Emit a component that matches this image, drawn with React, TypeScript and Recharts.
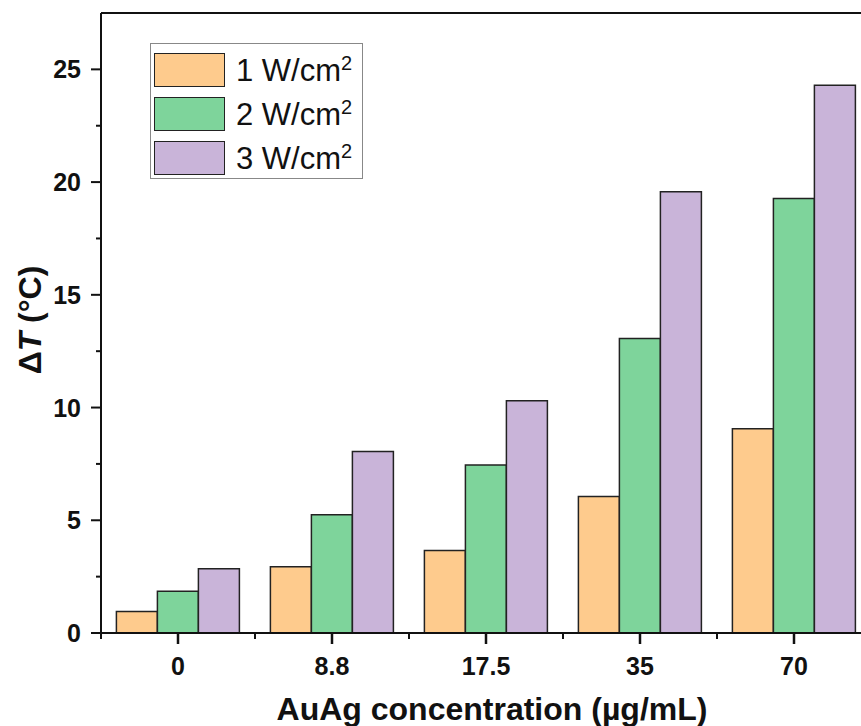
import React from "react";
import {
  Bar,
  BarChart,
  Legend,
  ReferenceLine,
  XAxis,
  YAxis,
} from "recharts";

const categories = ["0", "8.8", "17.5", "35", "70"];
const w1 = [0.95, 2.94, 3.66, 6.05, 9.06];
const w2 = [1.85, 5.25, 7.45, 13.06, 19.27];
const w3 = [2.85, 8.05, 10.3, 19.57, 24.29];
const yTicks = [0, 2.5, 5, 7.5, 10, 12.5, 15, 17.5, 20, 22.5, 25];

const SERIES = [
  { key: "w1", label: "1", color: "#FECB8D" },
  { key: "w2", label: "2", color: "#7ED49B" },
  { key: "w3", label: "3", color: "#C9B4D9" },
];

const data = categories.map((c, i) => ({
  conc: c,
  w1: w1[i],
  w2: w2[i],
  w3: w3[i],
}));

const FONT = "'Liberation Sans', Arial, sans-serif";
const CHART_W = 900;
const CHART_H = 726;
const M = { top: 13, right: 29, left: 0, bottom: 0 };
const Y_W = 101;
const X_H = 93;
const HALF_BAND = (CHART_W - M.right - Y_W) / categories.length / 2;
const INK = "#111";

const YTick = (props: any) => {
  const { x, y, payload } = props;
  const major = payload.value % 5 === 0;
  return (
    <g>
      <line x1={x} x2={x - (major ? 10 : 5)} y1={y} y2={y} stroke={INK} strokeWidth={2} />
      {major && (
        <text
          x={x - 20}
          y={y}
          dy="0.36em"
          textAnchor="end"
          fontFamily={FONT}
          fontWeight="bold"
          fontSize={25}
          fill={INK}
        >
          {payload.value}
        </text>
      )}
    </g>
  );
};

const XTick = (props: any) => {
  const { x, y, payload } = props;
  return (
    <g>
      <line x1={x} x2={x} y1={y} y2={y + 11} stroke={INK} strokeWidth={2.5} />
      <line x1={x - HALF_BAND} x2={x - HALF_BAND} y1={y} y2={y + 6} stroke={INK} strokeWidth={2} />
      <line x1={x + HALF_BAND} x2={x + HALF_BAND} y1={y} y2={y + 6} stroke={INK} strokeWidth={2} />
      <text
        x={x}
        y={y + 42}
        textAnchor="middle"
        fontFamily={FONT}
        fontWeight="bold"
        fontSize={25}
        fill={INK}
      >
        {payload.value}
      </text>
    </g>
  );
};

const LegendBox = () => (
  <div
    style={{
      border: "1px solid #888",
      background: "#fff",
      padding: "8px 4px 3px 3px",
      width: 204,
      fontFamily: FONT,
    }}
  >
    {SERIES.map((s, i) => (
      <div
        key={s.key}
        style={{
          display: "flex",
          alignItems: "center",
          height: 35,
          marginBottom: i < SERIES.length - 1 ? 9 : 0,
        }}
      >
        <div
          style={{
            width: 69,
            height: 32,
            background: s.color,
            border: "1.5px solid #222",
          }}
        />
        <span style={{ marginLeft: 11, fontSize: 31, color: INK, lineHeight: 1, whiteSpace: "nowrap" }}>
          {s.label} W/cm<sup style={{ fontSize: 20, verticalAlign: "0.55em" }}>2</sup>
        </span>
      </div>
    ))}
  </div>
);

export default function App() {
  return (
    <div
      style={{
        position: "absolute",
        left: 0,
        top: 0,
        width: 861,
        height: 726,
        overflow: "hidden",
        background: "#fff",
      }}
    >
      <BarChart
        width={CHART_W}
        height={CHART_H}
        data={data}
        margin={M}
        barCategoryGap="10%"
        barGap={0}
      >
        <XAxis
          dataKey="conc"
          height={X_H}
          interval={0}
          tickSize={0}
          tickMargin={0}
          tick={<XTick />}
          tickLine={false}
          axisLine={{ stroke: INK, strokeWidth: 2 }}
          label={{
            value: "AuAg concentration (µg/mL)",
            position: "insideBottom",
            offset: 6,
            dx: 6,
            fontFamily: FONT,
            fontWeight: "bold",
            fontSize: 32,
            fill: INK,
          }}
        />
        <YAxis
          width={Y_W}
          domain={[0, 27.5]}
          allowDataOverflow
          ticks={yTicks}
          interval={0}
          tickSize={0}
          tickMargin={0}
          tick={<YTick />}
          tickLine={false}
          axisLine={{ stroke: INK, strokeWidth: 2 }}
        />
        <ReferenceLine y={27.5} stroke={INK} strokeWidth={2} />
        <Legend
          layout="vertical"
          align="center"
          verticalAlign="middle"
          content={<LegendBox />}
          wrapperStyle={{ left: 150, top: 43, width: "auto", height: "auto" }}
        />
        {SERIES.map((s) => (
          <Bar
            key={s.key}
            dataKey={s.key}
            fill={s.color}
            stroke="#222"
            strokeWidth={1.5}
            isAnimationActive={false}
          />
        ))}
        <text
          x={30}
          y={320}
          transform="rotate(-90 30 320)"
          textAnchor="middle"
          dominantBaseline="central"
          fontFamily={FONT}
          fontWeight="bold"
          fontSize={32}
          fill={INK}
        >
          Δ<tspan fontStyle="italic">T</tspan> (°C)
        </text>
      </BarChart>
    </div>
  );
}
